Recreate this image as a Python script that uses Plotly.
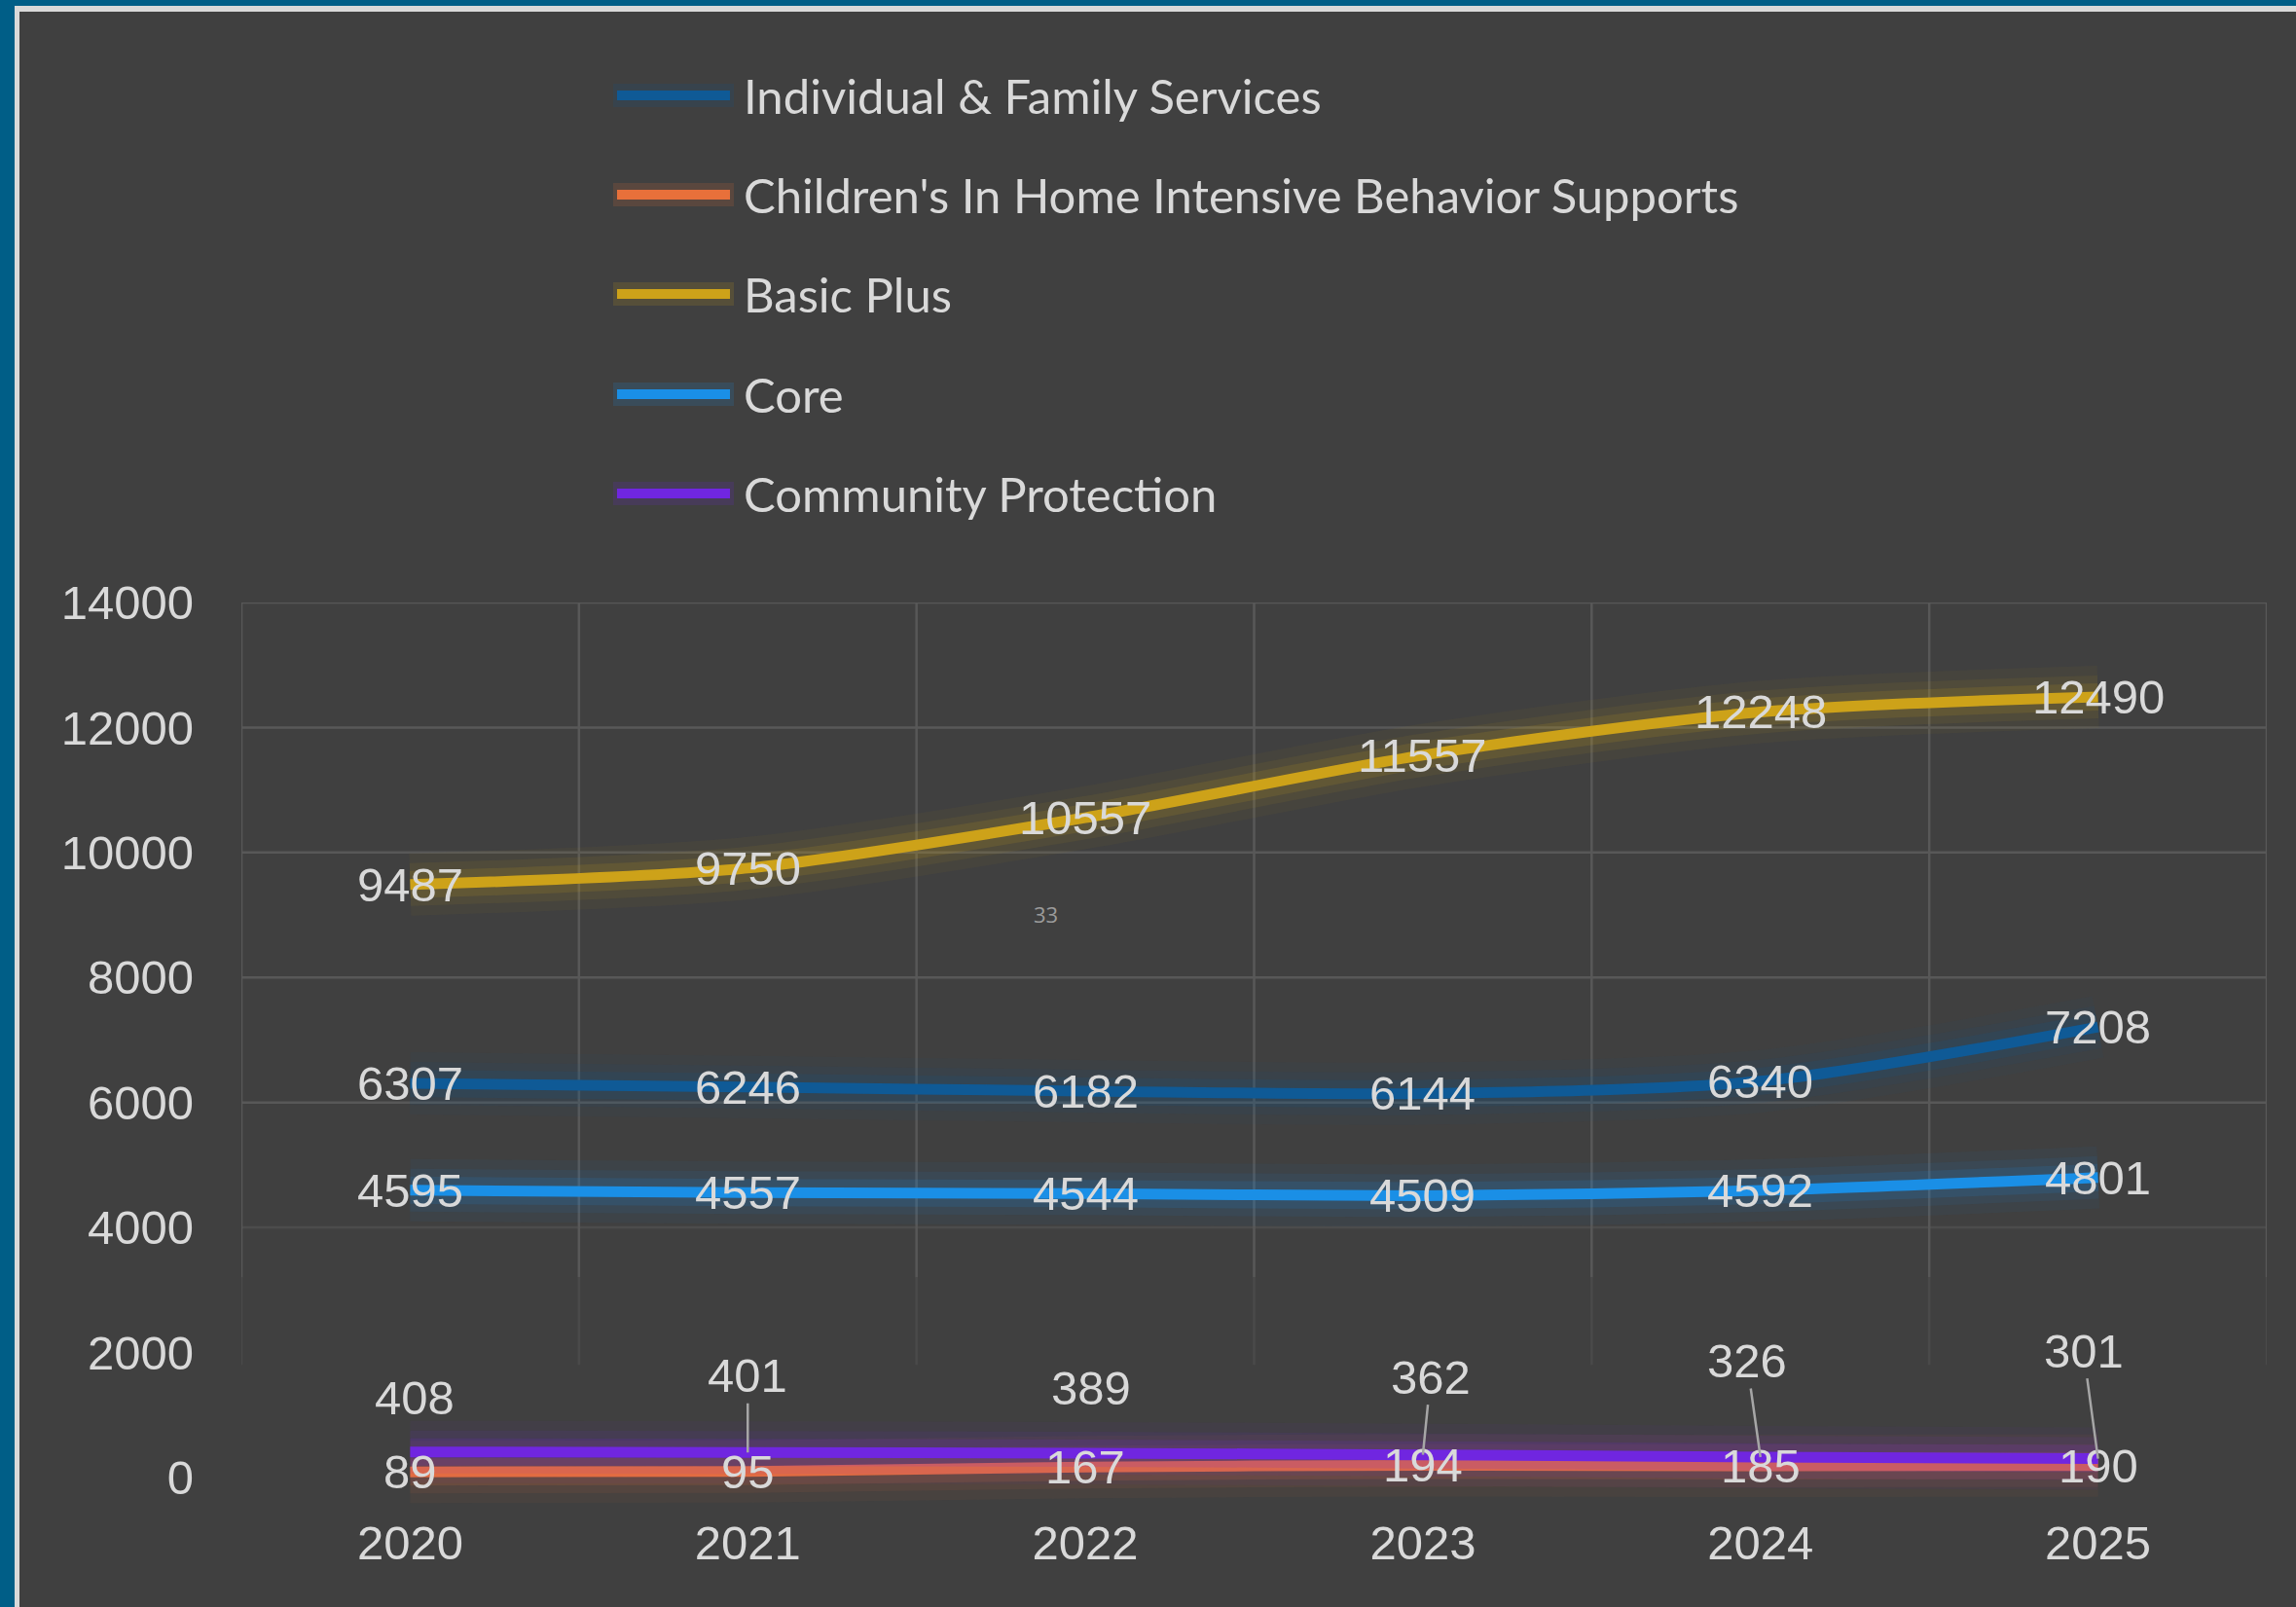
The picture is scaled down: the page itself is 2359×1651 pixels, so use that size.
import plotly.graph_objects as go

# data
years = ["2020", "2021", "2022", "2023", "2024", "2025"]
individual_family = [6307, 6246, 6182, 6144, 6340, 7208]
childrens_ihibs = [89, 95, 167, 194, 185, 190]
basic_plus = [9487, 9750, 10557, 11557, 12248, 12490]
core = [4595, 4557, 4544, 4509, 4592, 4801]
community_protection = [408, 401, 389, 362, 326, 301]

series_names = [
    "Individual & Family Services",
    "Children's In Home Intensive Behavior Supports",
    "Basic Plus",
    "Core",
    "Community Protection",
]
y_ticks = [0, 2000, 4000, 6000, 8000, 10000, 12000, 14000]

# styling
series_colors = ["#0F5A96", "#E8703A", "#CDA219", "#1A8FE6", "#7026E0"]
BG = "#404040"
GRID = "#585858"
LABEL = "#D9D9D9"
NUM_FONT = "Liberation Sans"
LEG_FONT = "Lato"

# pixel offsets for the Community Protection labels (some with leader lines)
cp_dx = [5, 0, 6, 8, -14, -15]
cp_dy = [-56, -79, -67, -80, -99, -111]
cp_leader = [False, True, False, True, True, True]

FIG_W, FIG_H = 2359, 1651
M_L, M_R, M_T, M_B = 248, 30, 619, 101


def paper_x(px):
    return (px - M_L) / (FIG_W - M_L - M_R)


def paper_y(py):
    return (FIG_H - M_B - py) / (FIG_H - M_T - M_B)


def rgba(hex_color, a):
    h = hex_color.lstrip("#")
    r, g, b = int(h[0:2], 16), int(h[2:4], 16), int(h[4:6], 16)
    return f"rgba({r},{g},{b},{a})"


all_series = [individual_family, childrens_ihibs, basic_plus, core, community_protection]

fig = go.Figure()

# lines with a soft glow underneath
for name, vals, color in zip(series_names, all_series, series_colors):
    for w, a in [(64, 0.05), (44, 0.08), (28, 0.14)]:
        fig.add_trace(go.Scatter(
            x=years, y=vals, mode="lines",
            line=dict(color=rgba(color, a), width=w, shape="spline", smoothing=0.8),
            hoverinfo="skip", showlegend=False,
        ))
    fig.add_trace(go.Scatter(
        x=years, y=vals, mode="lines", name=name,
        line=dict(color=color, width=11, shape="spline", smoothing=0.8),
        showlegend=False,
    ))

annotations = []

# centred value labels on top of every line (x = category index)
for vals in all_series[:4]:
    for i, v in enumerate(vals):
        annotations.append(dict(
            x=i, y=v, xref="x", yref="y", text=str(v), showarrow=False,
            font=dict(family=NUM_FONT, size=49, color=LABEL),
        ))

for i, v in enumerate(community_protection):
    annotations.append(dict(
        x=i, y=v, xref="x", yref="y", text=str(v),
        showarrow=True, ax=cp_dx[i], ay=cp_dy[i], arrowhead=0, arrowwidth=2.5,
        arrowcolor="#A6A6A6" if cp_leader[i] else "rgba(0,0,0,0)", standoff=0,
        font=dict(family=NUM_FONT, size=49, color=LABEL),
    ))

shapes = []

# frame: blue outer strip, light inner strip
shapes += [
    dict(type="rect", xref="paper", yref="paper", layer="below", line_width=0,
         x0=paper_x(0), x1=paper_x(FIG_W), y0=paper_y(0), y1=paper_y(12), fillcolor="#D9D9D9"),
    dict(type="rect", xref="paper", yref="paper", layer="below", line_width=0,
         x0=paper_x(0), x1=paper_x(20), y0=paper_y(0), y1=paper_y(FIG_H), fillcolor="#D9D9D9"),
    dict(type="rect", xref="paper", yref="paper", layer="below", line_width=0,
         x0=paper_x(0), x1=paper_x(FIG_W), y0=paper_y(0), y1=paper_y(6), fillcolor="#005E87"),
    dict(type="rect", xref="paper", yref="paper", layer="below", line_width=0,
         x0=paper_x(0), x1=paper_x(15), y0=paper_y(0), y1=paper_y(FIG_H), fillcolor="#005E87"),
]

# grid drawn as shapes so it can fade out near the bottom
for v in y_ticks:
    if v <= 2000:
        continue
    shapes.append(dict(type="line", xref="x domain", yref="y", layer="below",
                       x0=0, x1=1, y0=v, y1=v,
                       line=dict(color="#4C4C4C" if v == 4000 else GRID, width=2.5)))
for k in range(len(years) + 1):
    xb = k - 0.5
    shapes.append(dict(type="line", xref="x", yref="y", layer="below",
                       x0=xb, x1=xb, y0=3200, y1=y_ticks[-1],
                       line=dict(color=GRID, width=2.5)))
    shapes.append(dict(type="line", xref="x", yref="y", layer="below",
                       x0=xb, x1=xb, y0=1800, y1=3200,
                       line=dict(color="#4A4A4A", width=2.5)))

# hand-built legend (long line samples)
leg_rows = [98, 200, 302, 405, 507]
for name, color, row in zip(series_names, series_colors, leg_rows):
    shapes.append(dict(type="line", xref="paper", yref="paper",
                       x0=paper_x(630), x1=paper_x(754), y0=paper_y(row), y1=paper_y(row),
                       line=dict(color=rgba(color, 0.16), width=24), layer="above"))
    shapes.append(dict(type="line", xref="paper", yref="paper",
                       x0=paper_x(634), x1=paper_x(750), y0=paper_y(row), y1=paper_y(row),
                       line=dict(color=color, width=10), layer="above"))
    annotations.append(dict(
        x=paper_x(762), y=paper_y(row), xref="paper", yref="paper",
        text=name, showarrow=False, xanchor="left", yanchor="middle",
        font=dict(family=LEG_FONT, size=49, color=LABEL),
    ))

# stray small label
annotations.append(dict(
    x=paper_x(1074), y=paper_y(939), xref="paper", yref="paper", text="33",
    showarrow=False, font=dict(family="Open Sans", size=22, color="#9B9B9B"),
))

fig.update_layout(
    width=FIG_W, height=FIG_H,
    margin=dict(l=M_L, r=M_R, t=M_T, b=M_B, pad=0),
    paper_bgcolor=BG, plot_bgcolor=BG,
    shapes=shapes, annotations=annotations,
    showlegend=False,
)
fig.update_xaxes(
    type="category", range=[-0.5, 5.5], ticks="",
    showgrid=False, showline=False, zeroline=False,
    tickfont=dict(family=NUM_FONT, size=49, color=LABEL), ticklabelstandoff=2,
)
fig.update_yaxes(
    range=[-500, 14000], tickvals=y_ticks, ticktext=[str(v) for v in y_ticks], ticks="",
    showgrid=False, zeroline=False, showline=False,
    tickfont=dict(family=NUM_FONT, size=49, color=LABEL), ticklabelstandoff=48,
)

fig.write_html("out.html", config={"displayModeBar": False},
               post_script="document.body.style.margin='0';")
